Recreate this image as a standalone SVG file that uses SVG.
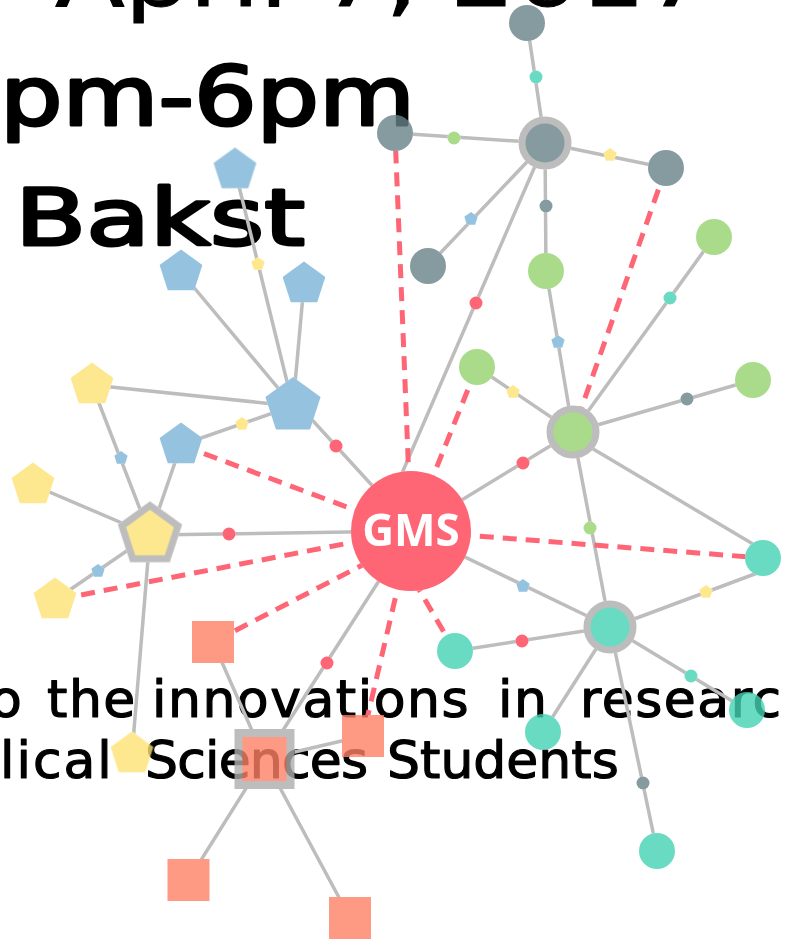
<svg xmlns="http://www.w3.org/2000/svg" xmlns:xlink="http://www.w3.org/1999/xlink" width="785" height="939" viewBox="0 0 785 939">
<style>
.t{font-family:"DejaVu Sans","Liberation Sans",sans-serif;fill:#000;stroke:#000;stroke-linejoin:round}
.big{stroke-width:3}
.small{stroke-width:1.2}
.e{stroke:#bdbdbd;stroke-width:3.5;fill:none;stroke-linecap:round}
.d{stroke:#fe6676;stroke-width:5;stroke-dasharray:14 9;fill:none}
.gr{fill:#688288}.gn{fill:#95d36d}.tl{fill:#45d2b4}.rd{fill:#fe4054}.bl{fill:#7bb3d6}.yl{fill:#fde373}.sm{fill:#fe8166}
.ring{stroke:#adadad;stroke-width:7}
.gms{font-family:"Open Sans","Liberation Sans",sans-serif;font-weight:bold;font-size:44px;fill:#fff;text-anchor:middle}
</style>
<defs>
<polygon id="pent" points="0,-10 9.511,-3.09 5.878,8.09 -5.878,8.09 -9.511,-3.09"/>
<filter id="blk" filterUnits="userSpaceOnUse" x="0" y="0" width="785" height="939">
<feColorMatrix type="matrix" values="0 0 0 0 0  0 0 0 0 0  0 0 0 0 0  0 0 0 1 0"/>
</filter>
<mask id="edgeMask" maskUnits="userSpaceOnUse" x="0" y="0" width="785" height="939">
<rect width="785" height="939" fill="#fff"/>
<use href="#nodeShapes" filter="url(#blk)"/>
</mask>
</defs>
<rect width="785" height="939" fill="#fff"/>

<g id="texts">
<text class="t" x="55" y="6" font-size="82" textLength="655" lengthAdjust="spacingAndGlyphs" stroke-width="1">April 7, 2017</text>
<text class="t big" x="0" y="125" font-size="82" textLength="415" lengthAdjust="spacingAndGlyphs">pm-6pm</text>
<text class="t big" x="15" y="245" font-size="78" textLength="290" lengthAdjust="spacingAndGlyphs">Bakst</text>
<text class="t small" y="717" font-size="52" letter-spacing="1.5"><tspan x="-10">o</tspan><tspan x="47">the</tspan><tspan x="152">innovations</tspan><tspan x="498">in</tspan><tspan x="580">research</tspan></text>
<text class="t small" y="778" font-size="52"><tspan x="0" letter-spacing="2">lical</tspan><tspan x="145" letter-spacing="-0.8">Sciences</tspan><tspan x="387">Students</tspan></text>
</g>

<g id="connectors" mask="url(#edgeMask)">
<path class="e" d="M545,143L527,23M545,143L395,133M545,143L666,168M545,143L428,266M545,143L546,271M545,143L380,524"/>
<path class="e" d="M573,432L546,271M573,432L477,367M573,432L714,237M573,432L753,380M573,437L763,550M573,432L610,627M573,432L411,531"/>
<path class="e" d="M610,628L760,572M610,627L455,651M610,627L747,710M610,627L543,732M610,627L657,851M610,627L411,531"/>
<path class="e" d="M293,406L235,170M293,406L181,272M293,406L304,284M293,406L92,385M293,406L181,445M293,399L411,528"/>
<path class="e" d="M150,535L92,385M150,535L181,445M150,535L33,485M150,535L55,600M150,535L132,754M150,535L411,531"/>
<path class="e" d="M264.5,759L213,642M264.5,759L363,736M264.5,759L188.5,880M264.5,759L350,918M264.5,759L411,531"/>
<path class="d" d="M411,531L395,133"/>
<path class="d" d="M411,531L181,445"/>
<path class="d" d="M411,531L55,600"/>
<path class="d" d="M411,540L213,642"/>
<path class="d" d="M411,531L363,736"/>
<path class="d" d="M390,540L455,651"/>
<path class="d" d="M411,531L763,558"/>
<path class="d" d="M411,531L477,367"/>
<path class="d" d="M666,168L573,432"/>
</g>

<g opacity="0.8">
<g id="nodeShapes">
<g id="n-gms"><circle class="rd" cx="411" cy="531" r="60"/><text class="gms" x="411" y="546">GMS</text></g>
<g id="n-gray-hub"><circle class="gr ring" cx="545" cy="143" r="23"/></g>
<g id="n-gray-top"><circle class="gr" cx="527" cy="23" r="18"/></g>
<g id="n-gray-left"><circle class="gr" cx="395" cy="133" r="18"/></g>
<g id="n-gray-right"><circle class="gr" cx="666" cy="168" r="18"/></g>
<g id="n-gray-low"><circle class="gr" cx="428" cy="266" r="18"/></g>
<g id="n-green-hub"><circle class="gn ring" cx="573" cy="432" r="23"/></g>
<g id="n-green-top"><circle class="gn" cx="546" cy="271" r="18"/></g>
<g id="n-green-left"><circle class="gn" cx="477" cy="367" r="18"/></g>
<g id="n-green-ne"><circle class="gn" cx="714" cy="237" r="18"/></g>
<g id="n-green-e"><circle class="gn" cx="753" cy="380" r="18"/></g>
<g id="n-teal-hub"><circle class="tl ring" cx="610" cy="627" r="23"/></g>
<g id="n-teal-e"><circle class="tl" cx="763" cy="558" r="18"/></g>
<g id="n-teal-w"><circle class="tl" cx="455" cy="651" r="18"/></g>
<g id="n-teal-se"><circle class="tl" cx="747" cy="710" r="18"/></g>
<g id="n-teal-s"><circle class="tl" cx="543" cy="732" r="18"/></g>
<g id="n-teal-low"><circle class="tl" cx="657" cy="851" r="18"/></g>
<g id="n-blue-hub"><use href="#pent" class="bl" transform="translate(293,406) scale(2.9)"/></g>
<g id="n-blue-top"><use href="#pent" class="bl" transform="translate(235,170) scale(2.25)"/></g>
<g id="n-blue-nw"><use href="#pent" class="bl" transform="translate(181,272) scale(2.25)"/></g>
<g id="n-blue-ne"><use href="#pent" class="bl" transform="translate(304,284) scale(2.25)"/></g>
<g id="n-blue-low"><use href="#pent" class="bl" transform="translate(181,445) scale(2.25)"/></g>
<g id="n-yellow-hub"><use href="#pent" class="yl" transform="translate(150,535) scale(2.95)" style="stroke:#adadad;stroke-width:2.37;stroke-linejoin:miter"/></g>
<g id="n-yellow-nw"><use href="#pent" class="yl" transform="translate(92,385) scale(2.25)"/></g>
<g id="n-yellow-w"><use href="#pent" class="yl" transform="translate(33,485) scale(2.25)"/></g>
<g id="n-yellow-sw"><use href="#pent" class="yl" transform="translate(55,600) scale(2.25)"/></g>
<g id="n-yellow-s"><use href="#pent" class="yl" transform="translate(132,754) scale(2.25)"/></g>
<g id="n-salmon-hub"><rect class="sm" x="238.5" y="733" width="52" height="52" stroke="#adadad" stroke-width="8"/></g>
<g id="n-salmon-top"><rect class="sm" x="192" y="621" width="42" height="42"/></g>
<g id="n-salmon-e"><rect class="sm" x="342" y="715" width="42" height="42"/></g>
<g id="n-salmon-sw"><rect class="sm" x="167.5" y="859" width="42" height="42"/></g>
<g id="n-salmon-se"><rect class="sm" x="329" y="897" width="42" height="42"/></g>
<g id="p-1"><circle class="tl" cx="536" cy="77" r="6.5"/></g>
<g id="p-2"><circle class="gn" cx="454" cy="138" r="6.5"/></g>
<g id="p-3"><use href="#pent" class="yl" transform="translate(610,155) scale(0.7)"/></g>
<g id="p-4"><use href="#pent" class="bl" transform="translate(471,219) scale(0.7)"/></g>
<g id="p-5"><circle class="gr" cx="546" cy="206" r="6.5"/></g>
<g id="p-6"><circle class="rd" cx="476" cy="303" r="6.5"/></g>
<g id="p-7"><use href="#pent" class="bl" transform="translate(558,342) scale(0.7)"/></g>
<g id="p-8"><use href="#pent" class="yl" transform="translate(513,392) scale(0.7)"/></g>
<g id="p-9"><circle class="tl" cx="670" cy="298" r="6.5"/></g>
<g id="p-10"><circle class="gr" cx="687" cy="399" r="6.5"/></g>
<g id="p-11"><circle class="gn" cx="590" cy="528" r="6.5"/></g>
<g id="p-12"><circle class="rd" cx="523" cy="463" r="6.5"/></g>
<g id="p-13"><use href="#pent" class="yl" transform="translate(706,592) scale(0.7)"/></g>
<g id="p-14"><circle class="rd" cx="522" cy="641" r="6.5"/></g>
<g id="p-15"><circle class="tl" cx="691" cy="676" r="6.5"/></g>
<g id="p-16"><circle class="gr" cx="643" cy="783" r="6.5"/></g>
<g id="p-17"><use href="#pent" class="bl" transform="translate(523,586) scale(0.7)"/></g>
<g id="p-18"><use href="#pent" class="yl" transform="translate(258,264) scale(0.7)"/></g>
<g id="p-19"><use href="#pent" class="yl" transform="translate(242,424) scale(0.7)"/></g>
<g id="p-20"><circle class="rd" cx="336" cy="446" r="6.5"/></g>
<g id="p-21"><use href="#pent" class="bl" transform="translate(121,458) scale(0.7)"/></g>
<g id="p-22"><use href="#pent" class="bl" transform="translate(98,571) scale(0.7)"/></g>
<g id="p-23"><circle class="rd" cx="229" cy="534" r="6.5"/></g>
<g id="p-24"><circle class="rd" cx="327" cy="663" r="6.5"/></g>
</g>
</g>
</svg>
